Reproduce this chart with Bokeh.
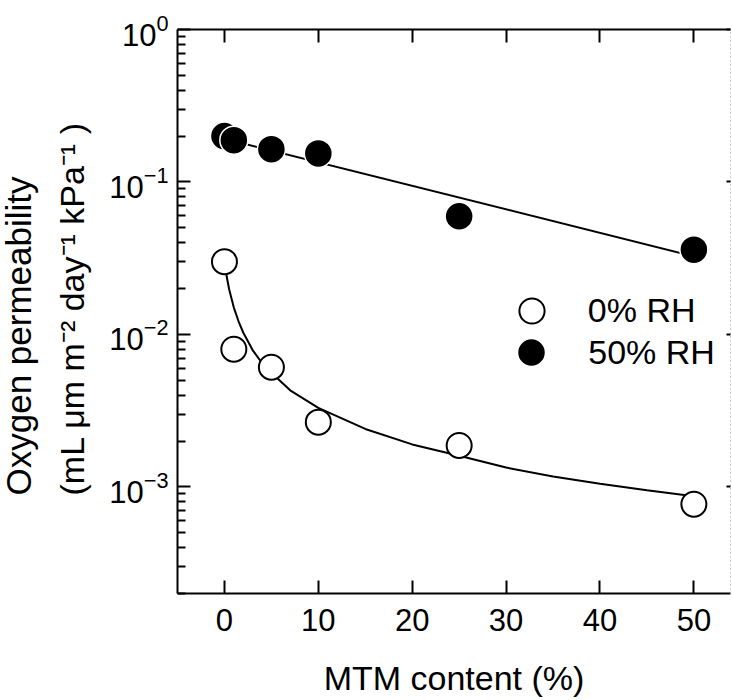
from bokeh.plotting import figure
from bokeh.models import (LogAxis, LinearAxis, FixedTicker, Legend, Title,
                          LegendItem, Range1d, LogTickFormatter,
                          CustomJSTickFormatter)
from bokeh.embed import file_html
from bokeh.resources import INLINE

# ---- data ----
mtm_content = [0, 1, 5, 10, 25, 50]
perm_rh0 = [0.0300, 0.0080, 0.0061, 0.00266, 0.00187, 0.00077]
perm_rh50 = [0.200, 0.188, 0.164, 0.154, 0.0596, 0.0360]

# fitted curves as drawn in the reference
fit_rh0_x = [0, 0.25, 0.5, 1, 1.5, 2, 3, 4, 5, 7, 10, 15, 20, 25, 30, 35, 40, 45, 50]
fit_rh0_y = [0.0300, 0.0238, 0.0198, 0.0150, 0.0122, 0.0103, 0.0079, 0.0065, 0.0056,
             0.0043, 0.0033, 0.0024, 0.0019, 0.0016, 0.00134, 0.00117, 0.00105,
             0.00095, 0.00087]
fit_rh50_x = [0, 50]
fit_rh50_y = [0.192, 0.0325]

x_ticks = [0, 10, 20, 30, 40, 50]
y_major_ticks = [1e-3, 1e-2, 1e-1, 1e0]
y_minor_ticks = [k * 10.0 ** e for e in (-4, -3, -2, -1) for k in range(2, 10)]

legend_labels = ["0% RH", "50% RH"]
x_title = "MTM content (%)"
y_title_1 = "Oxygen permeability"
y_title_2 = "(mL μm m⁻² day⁻¹ kPa⁻¹ )"

FONT = "Liberation Sans"
W, H = 732, 700

p = figure(width=W, height=H,
           x_range=Range1d(-5, 53.9), y_range=Range1d(2e-4, 1),
           y_axis_type="log", output_backend="svg", toolbar_location=None,
           min_border_left=177, min_border_right=2, min_border_top=29,
           min_border_bottom=107, outline_line_color=None,
           background_fill_color="white", border_fill_color="white")
p.grid.visible = False

# bottom axis
xa = p.xaxis[0]
xa.ticker = FixedTicker(ticks=x_ticks)
xa.axis_line_width = 2
xa.axis_line_color = "black"
xa.major_tick_in = 13
xa.major_tick_out = 0
xa.major_tick_line_width = 2
xa.major_tick_line_color = "black"
xa.minor_tick_line_color = None
xa.major_label_text_font = FONT
xa.major_label_text_font_size = "31px"
xa.major_label_text_color = "black"
xa.major_label_standoff = 15
xa.axis_label = x_title
xa.axis_label_text_font = FONT
xa.axis_label_text_font_size = "34px"
xa.axis_label_text_font_style = "normal"
xa.axis_label_text_color = "black"
xa.axis_label_standoff = 25

# left axis
ya = p.yaxis[0]
ya.ticker = FixedTicker(ticks=y_major_ticks, minor_ticks=y_minor_ticks)
ya.formatter = LogTickFormatter()
ya.axis_line_width = 2
ya.axis_line_color = "black"
ya.major_tick_in = 13
ya.major_tick_out = 0
ya.major_tick_line_width = 2
ya.major_tick_line_color = "black"
ya.minor_tick_in = 8
ya.minor_tick_out = 0
ya.minor_tick_line_width = 2
ya.minor_tick_line_color = "black"
ya.major_label_text_font = FONT
ya.major_label_text_font_size = "31px"
ya.major_label_text_color = "black"
ya.major_label_standoff = 9

blank = CustomJSTickFormatter(code="return ''")

# top axis (ticks only)
top = LinearAxis(ticker=FixedTicker(ticks=x_ticks), formatter=blank,
                 axis_line_width=2, axis_line_color="black",
                 major_tick_in=13, major_tick_out=0,
                 major_tick_line_width=2, minor_tick_line_color=None,
                 major_label_text_font_size="1px", major_label_standoff=0)
p.add_layout(top, "above")

# right axis (faint dotted)
right = LogAxis(ticker=FixedTicker(ticks=y_major_ticks), formatter=blank,
                axis_line_width=1, axis_line_color="#9a9a9a",
                axis_line_dash="1 3", major_tick_in=4, major_tick_out=0,
                major_tick_line_width=2, minor_tick_line_color=None,
                major_label_text_font_size="1px", major_label_standoff=0)
p.add_layout(right, "right")

# fits
p.line(fit_rh50_x, fit_rh50_y, line_width=2, line_color="black")
p.line(fit_rh0_x, fit_rh0_y, line_width=2, line_color="black")

# points
r50 = p.scatter(mtm_content, perm_rh50, size=28, fill_color="black",
                line_color="white", line_width=1.5)
r0 = p.scatter(mtm_content, perm_rh0, size=25, fill_color="white",
               line_color="black", line_width=2)

# legend (two single-item legends)
def make_legend(label, renderer, glyph, loc, standoff):
    return Legend(items=[LegendItem(label=label, renderers=[renderer])],
                  location=loc, glyph_width=glyph, glyph_height=glyph,
                  label_standoff=standoff, padding=0, margin=0, spacing=0,
                  border_line_color=None, background_fill_alpha=0,
                  label_text_font=FONT, label_text_font_size="34px",
                  label_text_color="black")

p.add_layout(make_legend(legend_labels[0], r0, 63, (322.8, 251.2), 25))
p.add_layout(make_legend(legend_labels[1], r50, 70, (319.3, 206.0), 22))

# y title: two lines, left (bottom) aligned
for txt, size, standoff in ((y_title_2, 34, 32), (y_title_1, 35, -7)):
    p.add_layout(Title(text=txt, align="left", offset=98, standoff=standoff,
                       text_font=FONT, text_font_size=f"{size}px",
                       text_font_style="normal", text_color="black"), "left")

open("out.html", "w").write(file_html(p, INLINE))
